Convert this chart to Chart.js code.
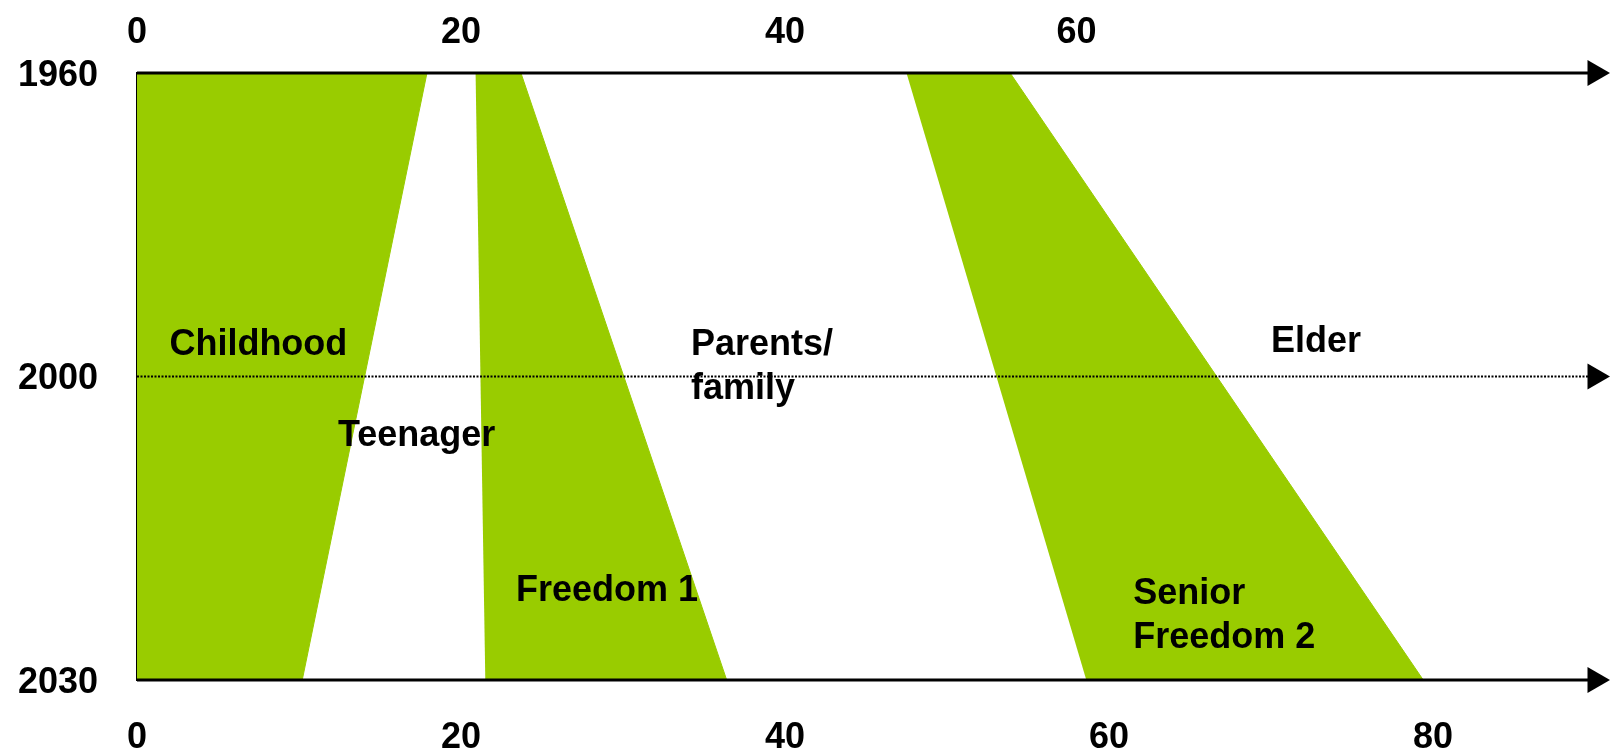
<!DOCTYPE html>
<html>
<head>
<meta charset="utf-8">
<title>Life phases 1960 - 2030</title>
<script src="https://cdn.jsdelivr.net/npm/chart.js@4.4.1/dist/chart.umd.min.js"></script>
<style>
  html, body { margin: 0; padding: 0; background: #fff; }
  #wrap { width: 1610px; height: 752px; }
</style>
</head>
<body>
<div id="wrap"><canvas id="lifePhases"></canvas></div>
<script>
// age ticks of the bottom axis, and the (hand placed) labels of the top axis
var ageTicks = [0, 20, 40, 60, 80];
var topAgeTicks = [0, 20, 40, 58];
var topAgeLabels = ['0', '20', '40', '60'];
var years = ['1960', '2000', '2030'];
var ageMax = 90;

// green phases: first and last age of the phase in 1960 and in 2030
var phases = ['Childhood', 'Freedom 1', 'Senior Freedom 2'];
var startAge1960 = [0, 20.9, 47.5];
var endAge1960 = [17.9, 23.7, 53.9];
var startAge2030 = [0, 21.5, 58.6];
var endAge2030 = [10.2, 36.4, 79.4];

// text in the picture: age = left edge, row = baseline on the year axis (0 = 1960, 2 = 2030)
var phaseLabels = [
    { lines: ['Childhood'], age: 2.0, row: 0.93 },
    { lines: ['Teenager'], age: 12.4, row: 1.23 },
    { lines: ['Parents/', 'family'], age: 34.2, row: 0.93 },
    { lines: ['Elder'], age: 70.0, row: 0.92 },
    { lines: ['Freedom 1'], age: 23.4, row: 1.74 },
    { lines: ['Senior', 'Freedom 2'], age: 61.5, row: 1.75 }
];

var green = '#99cc00';
var bigFont = { family: "'Liberation Sans', Arial, sans-serif", size: 36, weight: 'bold', lineHeight: 1.2 };

var datasets = [];
// the three year lines with an arrow at the end (drawn on top)
years.forEach(function (yr, i) {
    datasets.push({
        label: yr,
        data: [{ x: 0, y: yr }, { x: ageMax, y: yr }],
        borderColor: '#000',
        borderWidth: i === 1 ? 2 : 3,
        borderDash: i === 1 ? [2, 1.5] : [],
        pointRadius: [0, 15],
        pointStyle: 'triangle',
        pointRotation: 90,
        pointBackgroundColor: '#000',
        pointBorderWidth: 0,
        fill: false,
        clip: false
    });
});
// the green bands
phases.forEach(function (name, i) {
    datasets.push({
        label: name,
        data: [
            { x: startAge1960[i], y: years[0] },
            { x: endAge1960[i], y: years[0] },
            { x: endAge2030[i], y: years[2] },
            { x: startAge2030[i], y: years[2] }
        ],
        borderColor: green,
        borderWidth: 1,
        backgroundColor: green,
        fill: 'shape',
        pointRadius: 0,
        tension: 0
    });
});

var textLabels = {
    id: 'textLabels',
    afterDatasetsDraw: function (chart) {
        var ctx = chart.ctx;
        var sx = chart.scales.x, sy = chart.scales.y;
        ctx.save();
        ctx.fillStyle = '#000';
        ctx.font = 'bold 36px "Liberation Sans", Arial, sans-serif';
        ctx.textAlign = 'left';
        ctx.textBaseline = 'alphabetic';
        phaseLabels.forEach(function (l) {
            var x = sx.getPixelForValue(l.age);
            var y = sy.getPixelForValue(l.row);
            l.lines.forEach(function (t, k) {
                ctx.fillText(t, x, y + k * 44);
            });
        });
        ctx.restore();
    }
};

var ctx = document.getElementById('lifePhases').getContext('2d');
var lifePhases = new Chart(ctx, {
    type: 'line',
    data: { datasets: datasets },
    options: {
        responsive: true,
        maintainAspectRatio: false,
        animation: false,
        events: [],
        layout: { padding: { left: 0, right: 10, top: 0, bottom: 0 } },
        plugins: {
            legend: { display: false },
            tooltip: { enabled: false }
        },
        scales: {
            x: {
                type: 'linear',
                position: 'bottom',
                min: 0,
                max: ageMax,
                grid: { display: false, drawTicks: false },
                border: { display: false },
                afterBuildTicks: function (s) {
                    s.ticks = ageTicks.map(function (v) { return { value: v }; });
                },
                afterFit: function (s) { s.height = 72; },
                ticks: { color: '#000', font: bigFont, padding: 36, maxRotation: 0, autoSkip: false }
            },
            xTop: {
                type: 'linear',
                position: 'top',
                min: 0,
                max: ageMax,
                grid: { display: false, drawTicks: false },
                border: { display: false },
                afterBuildTicks: function (s) {
                    s.ticks = topAgeTicks.map(function (v) { return { value: v }; });
                },
                afterFit: function (s) { s.height = 73; },
                ticks: {
                    color: '#000', font: bigFont, padding: 18, maxRotation: 0, autoSkip: false,
                    callback: function (v, i) { return topAgeLabels[i]; }
                }
            },
            y: {
                type: 'category',
                labels: years,
                offset: false,
                position: 'left',
                grid: { display: false, drawTicks: false },
                border: { display: true, color: '#000', width: 2.5 },
                afterFit: function (s) { s.width = 137; },
                ticks: { color: '#000', font: bigFont, padding: 39, labelOffset: 3, autoSkip: false }
            }
        }
    },
    plugins: [textLabels]
});
</script>
</body>
</html>
